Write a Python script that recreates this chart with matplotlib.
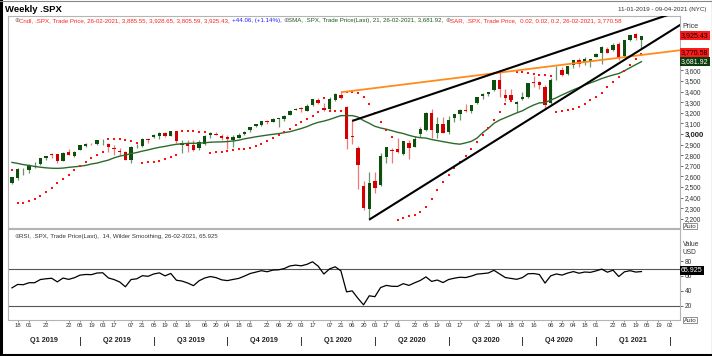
import numpy as np
import pandas as pd
import matplotlib.pyplot as plt
import matplotlib.transforms as mtransforms
from matplotlib.lines import Line2D

plt.rcParams['font.family'] = ['Liberation Sans', 'DejaVu Sans']

W, H = 712, 356

# ---- weekly SPX bars, first bar is the week ending 11-01-2019 ----
first_bar = '2019-01-11'
opens = [2535.61, 2582.10, 2657.44, 2657.88, 2703.17, 2712.40, 2769.28, 2804.35, 2813.49, 2747.61,
         2827.09, 2796.01, 2848.63, 2888.32, 2909.99, 2904.81, 2940.58, 2908.89, 2859.84, 2841.94,
         2830.03, 2751.53, 2885.83, 2886.82, 2951.42, 2971.41, 2979.77, 3012.13, 2981.93, 3028.00,
         2898.07, 2907.07, 2898.43, 2866.70, 2909.01, 2988.43, 3001.50, 2983.50, 2967.07, 2944.23,
         2965.81, 2996.48, 3035.39, 3078.96, 3087.02, 3122.03, 3117.44, 3143.85, 3141.86, 3183.63,
         3226.05,
         3244.67, 3217.55, 3271.13, 3323.66, 3247.16, 3235.66, 3318.28, 3370.29, 3257.61, 2974.28,
         2863.89, 2508.59, 2290.71, 2555.87, 2514.92, 2782.46, 2845.62, 2854.65, 2815.01, 2915.46,
         2881.19, 2995.17, 3038.78, 3199.92, 3012.35, 3094.42, 3018.59, 3155.29, 3190.14, 3224.29,
         3219.84, 3288.26, 3356.04, 3380.86, 3418.09, 3507.44, 3370.34, 3363.56, 3285.57, 3333.90,
         3349.48, 3484.34, 3493.50, 3441.42, 3296.20, 3583.04, 3600.16, 3566.82, 3653.78, 3694.73,
         3675.27, 3684.28, 3723.03,
         3764.61, 3803.14, 3788.37, 3851.68, 3731.17, 3885.13, 3939.61, 3885.55]
highs = [2597.82, 2675.47, 2681.83, 2716.66, 2738.98, 2775.66, 2794.20, 2816.88, 2813.49, 2830.73,
         2860.31, 2836.03, 2893.42, 2910.53, 2916.06, 2939.88, 2954.13, 2918.23, 2892.15, 2871.58,
         2841.36, 2884.99, 2905.12, 2964.15, 2964.15, 2996.82, 3017.80, 3017.19, 3027.98, 3029.47,
         2944.23, 2943.31, 2939.08, 2940.43, 2985.86, 3021.99, 3022.49, 3002.43, 2993.28, 2993.28,
         3008.29, 3027.39, 3066.95, 3097.77, 3120.46, 3127.64, 3154.26, 3150.60, 3182.68, 3225.65,
         3247.93,
         3258.14, 3282.99, 3329.88, 3337.77, 3293.47, 3347.96, 3385.09, 3393.52, 3259.81, 3136.72,
         2882.59, 2553.93, 2637.01, 2641.39, 2818.57, 2879.22, 2871.49, 2964.95, 2934.10, 2945.56,
         2980.29, 3068.67, 3211.72, 3233.13, 3155.53, 3155.53, 3165.81, 3186.16, 3233.36, 3279.32,
         3272.17, 3352.54, 3387.89, 3399.96, 3509.23, 3588.11, 3425.55, 3428.92, 3306.88, 3397.18,
         3482.34, 3549.85, 3502.42, 3464.86, 3529.05, 3645.99, 3628.51, 3644.84, 3699.20, 3712.39,
         3726.70, 3711.24, 3760.20,
         3826.69, 3823.60, 3861.45, 3870.90, 3887.00, 3934.83, 3950.43, 3928.65]
lows = [2524.56, 2569.68, 2612.86, 2631.05, 2681.83, 2704.10, 2759.09, 2775.05, 2728.81, 2741.07,
        2800.71, 2785.68, 2848.63, 2873.23, 2898.20, 2898.49, 2900.50, 2825.39, 2801.43, 2805.49,
        2750.52, 2728.81, 2868.75, 2879.62, 2913.39, 2963.44, 2952.22, 2975.90, 2978.63, 2914.11,
        2822.12, 2825.71, 2834.97, 2853.05, 2891.85, 2964.15, 2990.07, 2946.05, 2855.94, 2874.93,
        2963.02, 2991.56, 3023.19, 3065.15, 3074.72, 3091.41, 3115.43, 3070.33, 3124.67, 3183.63,
        3223.42,
        3212.03, 3214.64, 3263.62, 3281.53, 3214.68, 3214.25, 3315.77, 3328.45, 2855.84, 2901.54,
        2478.86, 2280.52, 2191.86, 2447.49, 2505.73, 2727.10, 2727.10, 2816.86, 2797.85, 2766.64,
        2881.19, 2969.95, 3031.54, 2965.66, 2965.66, 3004.63, 2999.74, 3115.70, 3127.66, 3209.45,
        3198.59, 3284.53, 3329.27, 3361.39, 3403.26, 3349.63, 3310.47, 3328.82, 3209.45, 3323.69,
        3339.62, 3441.42, 3419.93, 3233.94, 3279.74, 3511.91, 3550.45, 3553.25, 3622.83, 3633.40,
        3647.49, 3636.48, 3723.03,
        3662.71, 3764.57, 3780.85, 3694.12, 3725.09, 3874.67, 3884.06, 3805.59]
closes = [2596.26, 2670.71, 2664.76, 2706.53, 2707.88, 2775.60, 2792.67, 2803.69, 2743.07, 2822.48,
          2800.71, 2834.40, 2892.74, 2907.41, 2905.03, 2939.88, 2945.64, 2881.40, 2859.53, 2826.06,
          2752.06, 2873.34, 2886.98, 2950.46, 2941.76, 2990.41, 3013.77, 2976.61, 3025.86, 2932.05,
          2918.65, 2888.68, 2847.11, 2926.46, 2978.71, 3007.39, 2992.07, 2961.79, 2952.01, 2970.27,
          2986.20, 3022.55, 3066.91, 3093.08, 3120.46, 3110.29, 3140.98, 3145.91, 3168.80, 3221.22,
          3240.02,
          3234.85, 3265.35, 3329.62, 3295.47, 3225.52, 3327.71, 3380.16, 3337.75, 2954.22, 2972.37,
          2711.02, 2304.92, 2541.47, 2488.65, 2789.82, 2874.56, 2836.74, 2830.71, 2929.80, 2863.70,
          2955.45, 3044.31, 3193.93, 3041.31, 3097.74, 3009.05, 3130.01, 3185.04, 3224.73, 3215.63,
          3271.12, 3351.28, 3372.85, 3397.16, 3508.01, 3426.96, 3340.97, 3319.47, 3298.46, 3348.42,
          3477.14, 3483.81, 3465.39, 3269.96, 3509.44, 3585.15, 3557.54, 3638.35, 3699.12, 3663.46,
          3709.41, 3703.06, 3756.07,
          3824.68, 3768.25, 3841.47, 3714.24, 3886.83, 3934.83, 3906.71, 3925.43]

# weekly closes of 2018 (Jan 5 .. Jan 4 2019), needed to warm up SMA / RSI
warmup_closes = [2743.15, 2786.24, 2810.30, 2872.87, 2762.13, 2619.55, 2732.22, 2747.30, 2691.25,
                 2786.57, 2752.01, 2588.26, 2640.87, 2604.47, 2656.30, 2670.14, 2669.91, 2663.42,
                 2727.72, 2712.97, 2721.33, 2734.62, 2779.03, 2779.66, 2754.88, 2718.37, 2759.82,
                 2801.31, 2801.83, 2818.82, 2840.35, 2833.28, 2850.13, 2874.69, 2901.52, 2871.68,
                 2904.98, 2929.67, 2913.98, 2885.57, 2767.13, 2767.78, 2658.69, 2723.06, 2781.01,
                 2736.27, 2632.56, 2760.17, 2633.08, 2599.95, 2416.62, 2485.74, 2531.94]
prev_highs = [2519.49, 2538.07]   # two weeks before the first bar

# parabolic SAR state on the first bar (dot above the bar, Dec-2018 low as extreme)
sar_first = 2660.0
sar_first_ep = 2346.58

# drawn trend lines: two anchor points each (date, price)
upper_line_dates = ['2020-03-06', '2021-02-05']
upper_line_prices = [3123.0, 3985.0]
lower_line_dates = ['2020-03-27', '2021-02-26']
lower_line_prices = [2191.86, 3800.0]
orange_line_dates = ['2020-02-21', '2021-02-26']
orange_line_prices = [3393.52, 3745.0]

# time axis labels
tick_dates = ['2019-01-18', '2019-02-01', '2019-02-22', '2019-03-22', '2019-04-05', '2019-04-19',
              '2019-05-03', '2019-05-17', '2019-06-07', '2019-06-21', '2019-07-05', '2019-07-19',
              '2019-08-02', '2019-08-16', '2019-09-06', '2019-09-20', '2019-10-04', '2019-10-18',
              '2019-11-01', '2019-11-22', '2019-12-06', '2019-12-20', '2020-01-03', '2020-01-17',
              '2020-02-07', '2020-02-21', '2020-03-06', '2020-03-20', '2020-04-03', '2020-04-17',
              '2020-05-01', '2020-05-22', '2020-06-05', '2020-06-19', '2020-07-03', '2020-07-17',
              '2020-08-07', '2020-08-21', '2020-09-04', '2020-09-18', '2020-10-02', '2020-10-16',
              '2020-11-06', '2020-11-20', '2020-12-04', '2020-12-18', '2021-01-01', '2021-01-22',
              '2021-02-05', '2021-02-19', '2021-03-05', '2021-03-19', '2021-04-02']
quarter_starts = ['2019-04-05', '2019-07-05', '2019-10-04', '2020-01-03', '2020-04-03',
                  '2020-07-03', '2020-10-02', '2021-01-01', '2021-04-02']
quarter_names = ['Q1 2019', 'Q2 2019', 'Q3 2019', 'Q4 2019', 'Q1 2020', 'Q2 2020', 'Q3 2020',
                 'Q4 2020', 'Q1 2021']
price_ticks = [2200, 2300, 2400, 2500, 2600, 2700, 2800, 2900, 3000, 3100, 3200, 3300, 3400, 3500, 3600]
rsi_ticks = [20, 40, 60, 80]
rsi_levels = [20, 70]

o = np.array(opens); h = np.array(highs); l = np.array(lows); c = np.array(closes)
n = len(c)
xs = np.arange(n)
t0 = pd.Timestamp(first_bar)


def week_pos(day):
    return (pd.Timestamp(day) - t0).days / 7.0


# SMA 21
all_closes = np.array(warmup_closes + closes)
sma = pd.Series(all_closes).rolling(21).mean().values[len(warmup_closes):]


# RSI 14, Wilder smoothing
def wilder_rsi(vals, period=14):
    d = np.diff(vals)
    gain = np.clip(d, 0, None)
    loss = np.clip(-d, 0, None)
    ag = gain[:period].mean()
    al = loss[:period].mean()
    out = [np.nan] * period + [100 - 100 / (1 + ag / al)]
    for i in range(period, len(d)):
        ag = (ag * (period - 1) + gain[i]) / period
        al = (al * (period - 1) + loss[i]) / period
        out.append(100 - 100 / (1 + ag / al))
    return np.array(out)


rsi = wilder_rsi(all_closes)[len(warmup_closes):]

# parabolic SAR 0.02 / 0.02 / 0.2
sar = np.zeros(n)
sar[0] = sar_first
trend_up = False
ep = sar_first_ep
af = 0.2
hh = prev_highs + list(h)
for i in range(1, n):
    s = sar[i - 1] + af * (ep - sar[i - 1])
    if trend_up:
        s = min(s, l[i - 1], l[i - 2] if i >= 2 else l[i - 1])
        if l[i] < s:
            s = ep
            trend_up = False
            ep = l[i]
            af = 0.02
        elif h[i] > ep:
            ep = h[i]
            af = min(af + 0.02, 0.2)
    else:
        s = max(s, hh[i + 1], hh[i])
        if h[i] > s:
            s = ep
            trend_up = True
            ep = h[i]
            af = 0.02
        elif l[i] < ep:
            ep = l[i]
            af = min(af + 0.02, 0.2)
    sar[i] = s

# ---------------- figure ----------------
fig = plt.figure(figsize=(W / 100, H / 100), dpi=100)
fig.patch.set_facecolor('white')


def fx(px):
    return px / W


def fy(py):
    return 1 - py / H


ax = fig.add_axes([fx(8), fy(228), fx(680) - fx(8), fy(16) - fy(228)])
ax2 = fig.add_axes([fx(8), fy(320), fx(680) - fx(8), fy(229) - fy(320)], sharex=ax)

x_lo, x_hi = -0.7, 117.8
GREEN = '#0d4f0d'
RED = '#d20000'

# candles
up = c >= o
ax.vlines(xs[up], l[up], h[up], color='#6f936f', lw=0.9, zorder=3)
ax.vlines(xs[~up], l[~up], h[~up], color='#f07878', lw=0.9, zorder=3)
body_lo = np.minimum(o, c)
body_h = np.maximum(np.abs(c - o), 4)
ax.bar(xs, body_h, bottom=body_lo, width=0.6,
       color=np.where(up, GREEN, RED), linewidth=0, zorder=4)

ax.plot(xs, sma, color='#2c6a2c', lw=1.0, zorder=5)
ax.scatter(xs, sar, s=2.2, marker='s', color='#ff1010', linewidths=0, zorder=5)


def draw_trend(dates, prices, color, lw):
    p0, p1 = week_pos(dates[0]), week_pos(dates[1])
    slope = (prices[1] - prices[0]) / (p1 - p0)
    ax.plot([p0, x_hi + 5], [prices[0], prices[0] + slope * (x_hi + 5 - p0)],
            color=color, lw=lw, zorder=6, solid_capstyle='butt')


draw_trend(orange_line_dates, orange_line_prices, '#ff8c1a', 1.3)
draw_trend(upper_line_dates, upper_line_prices, 'black', 1.5)
draw_trend(lower_line_dates, lower_line_prices, 'black', 1.5)

ax.set_xlim(x_lo, x_hi)
ax.set_ylim(2113, 4113)

spine_col = '#b4b4b4'
for a in (ax, ax2):
    for sp in a.spines.values():
        sp.set_color(spine_col)
        sp.set_linewidth(0.8)
    a.yaxis.tick_right()
    a.tick_params(axis='y', direction='out', length=2.5, width=0.6, color='#555555',
                  labelsize=4.8, pad=1, labelcolor='#333333')

ax.set_yticks(price_ticks)
ax.set_yticklabels([f'{v:,}' for v in price_ticks])
for lab, v in zip(ax.get_yticklabels(), price_ticks):
    if v == 3000:
        lab.set_fontweight('bold')
        lab.set_fontsize(5.6)
        lab.set_color('#222222')
ax.tick_params(axis='x', bottom=False, labelbottom=False)

# value tags on the price scale
blend = mtransforms.blended_transform_factory(ax.transAxes, ax.transData)
for val, fc, tc in [(3925.43, '#ff1a1a', 'black'), (3770.58, '#ff1a1a', 'black'),
                    (3681.92, '#0b3d0b', 'white')]:
    ax.text(1.0015, val, f'{val:,.2f}', transform=blend, ha='left', va='center', fontsize=5,
            color=tc, clip_on=False, zorder=10,
            bbox=dict(boxstyle='square,pad=0.15', fc=fc, ec='none'))
ax.text((682 - 8) / 672, (228 - 26) / 212, 'Price',
        transform=ax.transAxes, fontsize=5, color='#333333', ha='left', va='center')

# RSI panel
ax2.plot(xs, rsi, color='black', lw=0.9, zorder=5)
for lv in rsi_levels:
    ax2.axhline(lv, color='#555555', lw=0.8, zorder=2)
ax2.set_ylim(1.3, 122.7)
ax2.set_yticks(rsi_ticks)
ax2.set_yticklabels([str(v) for v in rsi_ticks])
blend2 = mtransforms.blended_transform_factory(ax2.transAxes, ax2.transData)
ax2.text(1.0015, rsi[-1] + 1.5, '65.925', transform=blend2, ha='left', va='center', fontsize=5,
         color='white', clip_on=False, zorder=10,
         bbox=dict(boxstyle='square,pad=0.15', fc='black', ec='none'))
ax2.text(1.004, (320 - 244) / 91, 'Value', transform=ax2.transAxes, fontsize=4.8,
         color='#333333', ha='left', va='center')
ax2.text(1.004, (320 - 252) / 91, 'USD', transform=ax2.transAxes, fontsize=4.8,
         color='#333333', ha='left', va='center')

for ypix in (226, 320):
    fig.text(fx(684), fy(ypix), 'Auto', fontsize=4.5, color='#333333', ha='left', va='center',
             bbox=dict(boxstyle='square,pad=0.1', fc='white', ec='#666666', lw=0.5))

# time axis
ax2.set_xticks([week_pos(d) for d in tick_dates])
ax2.set_xticklabels([d[-2:] for d in tick_dates])
ax2.tick_params(axis='x', direction='out', length=1.5, width=0.5, color='#666666',
                labelsize=4.2, pad=1, labelcolor='#333333')
q_pos = [week_pos(d) for d in quarter_starts]
edges = [x_lo] + q_pos
bt = mtransforms.blended_transform_factory(ax2.transData, fig.transFigure)
for i, name in enumerate(quarter_names):
    ax2.text((edges[i] + edges[i + 1]) / 2, fy(341), name, transform=bt, fontsize=5.2,
             fontweight='bold', ha='center', va='center', color='#222222')
for p in q_pos:
    ax2.plot([p, p], [fy(337), fy(345)], transform=bt, color='#333333', lw=0.7, clip_on=False)

# legend lines
icon_col = '#7a7a7a'


def legend_line(axis, xpix, ypix_axes, parts, size):
    prev = None
    for txt, col in parts:
        if prev is None:
            prev = axis.text(xpix, ypix_axes, txt, transform=axis.transAxes, fontsize=size,
                             color=col, ha='left', va='bottom')
        else:
            prev = axis.annotate(txt, xy=(1, 0), xycoords=prev, fontsize=size, color=col,
                                 ha='left', va='bottom')


legend_line(ax, (14 - 8) / 672, (228 - 23) / 212, [
    ('⊕', icon_col),
    ('Cndl, .SPX, Trade Price, 26-02-2021, 3,885.55, 3,928.65, 3,805.59, 3,925.43, ', '#ff2020'),
    ('+44.06, (+1.14%), ', '#2020ff'),
    ('⊕', icon_col),
    ('SMA, .SPX, Trade Price(Last), 21, 26-02-2021, 3,681.92, ', '#1d5a1d'),
    ('⊕', icon_col),
    ('SAR, .SPX, Trade Price,  0.02, 0.02, 0.2, 26-02-2021, 3,770.58', '#ff2020'),
], 4.4)
legend_line(ax2, (14 - 8) / 672, (320 - 239) / 91, [
    ('⊕', icon_col),
    ('RSI, .SPX, Trade Price(Last),  14, Wilder Smoothing, 26-02-2021, 65.925', '#333333'),
], 4.4)

# header
fig.text(fx(5), fy(9), 'Weekly .SPX', fontsize=6.8, fontweight='bold', ha='left', va='center')
fig.text(fx(707), fy(10), '11-01-2019 - 09-04-2021 (NYC)', fontsize=4.5, color='#333333',
         ha='right', va='center')

# outer frame
fig.add_artist(Line2D([fx(1), fx(1)], [0, 1], color='black', lw=2.2))
fig.add_artist(Line2D([0, 1], [fy(355), fy(355)], color='black', lw=2.2))
fig.add_artist(Line2D([fx(711.5), fx(711.5)], [0, 1], color='black', lw=0.8))
fig.add_artist(Line2D([0, 1], [fy(0.5), fy(0.5)], color='#888888', lw=0.8))

fig.savefig('out.png', dpi=100)
